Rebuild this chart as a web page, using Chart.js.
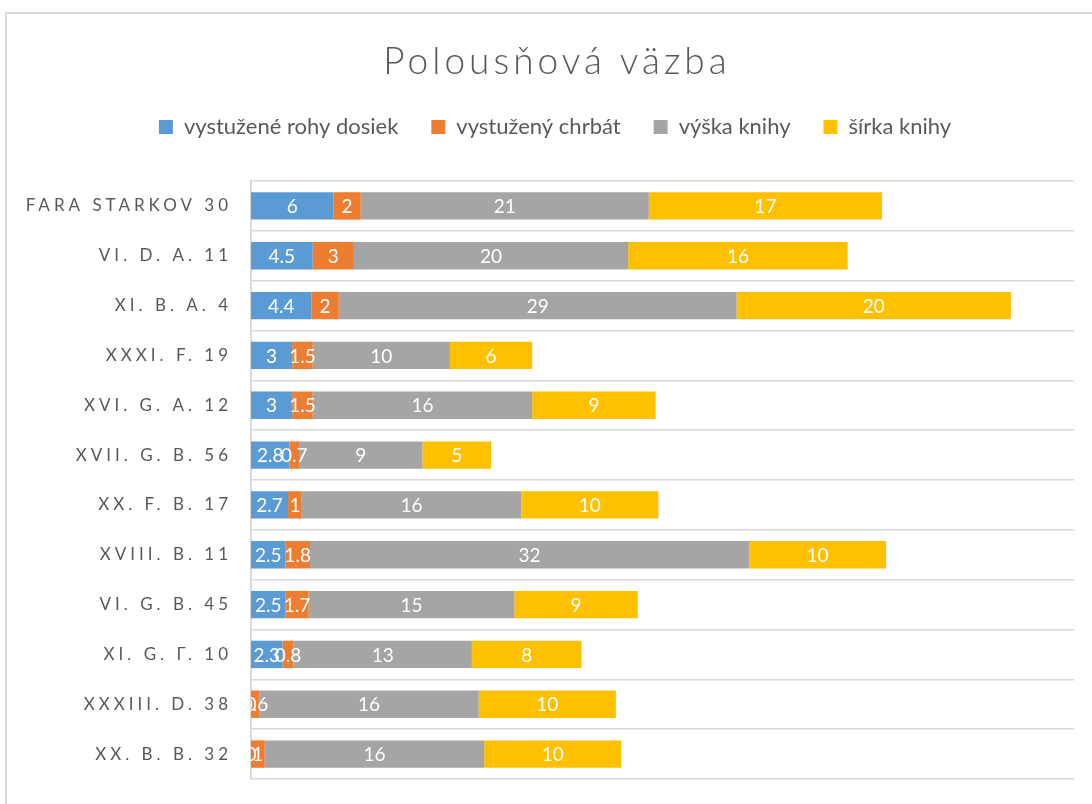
<!DOCTYPE html>
<html>
<head>
<meta charset="utf-8">
<title>Polousňová väzba</title>
<script src="https://cdn.jsdelivr.net/npm/chart.js@4"></script>
<style>
  html, body { margin: 0; padding: 0; background: #fff; overflow: hidden; }
  #frame {
    position: absolute; left: 5px; top: 12px;
    width: 1200px; height: 1000px;
    border: 2px solid #d9d9d9;
  }
  #chart { position: absolute; left: 0; top: 0; }
</style>
</head>
<body>
<div id="frame"></div>
<canvas id="chart" width="1092" height="804"></canvas>
<script>
// signatúry zväzkov (zhora nadol)
const signatury = [
    'FARA STARKOV 30', 'VI. D. A. 11', 'XI. B. A. 4', 'XXXI. F. 19',
    'XVI. G. A. 12', 'XVII. G. B. 56', 'XX. F. B. 17', 'XVIII. B. 11',
    'VI. G. B. 45', 'XI. G. Г. 10', 'XXXIII. D. 38', 'XX. B. B. 32'
];

const rohyDosiek = [6, 4.5, 4.4, 3, 3, 2.8, 2.7, 2.5, 2.5, 2.3, 0, 0];
const chrbat     = [2, 3, 2, 1.5, 1.5, 0.7, 1, 1.8, 1.7, 0.8, 0.6, 1];
const vyska      = [21, 20, 29, 10, 16, 9, 16, 32, 15, 13, 16, 16];
const sirka      = [17, 16, 20, 6, 9, 5, 10, 10, 9, 8, 10, 10];

const textColor = '#595959';
const fontName = 'Lato, "Open Sans", sans-serif';

// nadpis, popisky osi a hodnoty v stĺpcoch
const kreslenie = {
    id: 'kreslenie',
    afterLayout(chart) {
        // legendu posunúť na stred karty a bližšie k nadpisu
        const lg = chart.legend;
        lg.left += 18;
        lg.right += 18;
        lg.top -= 33;
        lg.bottom -= 33;
    },
    afterDraw(chart) {
        const ctx = chart.ctx;
        const area = chart.chartArea;
        const yScale = chart.scales.y;

        ctx.save();
        ctx.fillStyle = textColor;
        ctx.textBaseline = 'middle';

        // nadpis
        ctx.font = '300 37px ' + fontName;
        ctx.letterSpacing = '4px';
        ctx.textAlign = 'center';
        ctx.fillText('Polousňová väzba', 557, 62);

        // signatúry vľavo
        ctx.font = '17px ' + fontName;
        ctx.letterSpacing = '4px';
        ctx.textAlign = 'right';
        signatury.forEach((s, i) => {
            ctx.fillText(s, 232, yScale.getPixelForValue(i));
        });
        ctx.restore();

        // hodnoty v segmentoch
        ctx.save();
        ctx.beginPath();
        ctx.rect(area.left, area.top, area.right - area.left, area.bottom - area.top);
        ctx.clip();
        ctx.font = '19px ' + fontName;
        ctx.fillStyle = '#fff';
        ctx.textAlign = 'center';
        ctx.textBaseline = 'middle';
        chart.data.datasets.forEach((ds, di) => {
            chart.getDatasetMeta(di).data.forEach((bar, i) => {
                const x = (bar.x + bar.base) / 2;
                ctx.fillText(String(ds.data[i]), x, bar.y + 1);
            });
        });
        ctx.restore();
    }
};

new Chart(document.getElementById('chart'), {
    type: 'bar',
    data: {
        labels: signatury,
        datasets: [
            { label: 'vystužené rohy dosiek', data: rohyDosiek, backgroundColor: '#5B9BD5' },
            { label: 'vystužený chrbát', data: chrbat, backgroundColor: '#ED7D31' },
            { label: 'výška knihy', data: vyska, backgroundColor: '#A5A5A5' },
            { label: 'šírka knihy', data: sirka, backgroundColor: '#FFC000' }
        ]
    },
    options: {
        indexAxis: 'y',
        responsive: false,
        animation: false,
        devicePixelRatio: 1,
        barPercentage: 0.55,
        categoryPercentage: 1,
        layout: { padding: { top: 116, right: 18, bottom: 25, left: 0 } },
        scales: {
            x: {
                stacked: true,
                min: 0,
                max: 60,
                display: false
            },
            y: {
                stacked: true,
                ticks: { display: false },
                grid: { color: '#d9d9d9', lineWidth: 1.5, drawTicks: false, offset: true },
                border: { color: '#d9d9d9', width: 2 },
                afterFit(scale) { scale.width = 251; }
            }
        },
        plugins: {
            title: { display: false },
            tooltip: { enabled: false },
            legend: {
                position: 'top',
                labels: {
                    boxWidth: 14,
                    boxHeight: 14,
                    padding: 33,
                    color: textColor,
                    font: { family: fontName, size: 22 }
                }
            }
        }
    },
    plugins: [kreslenie]
});
</script>
</body>
</html>
